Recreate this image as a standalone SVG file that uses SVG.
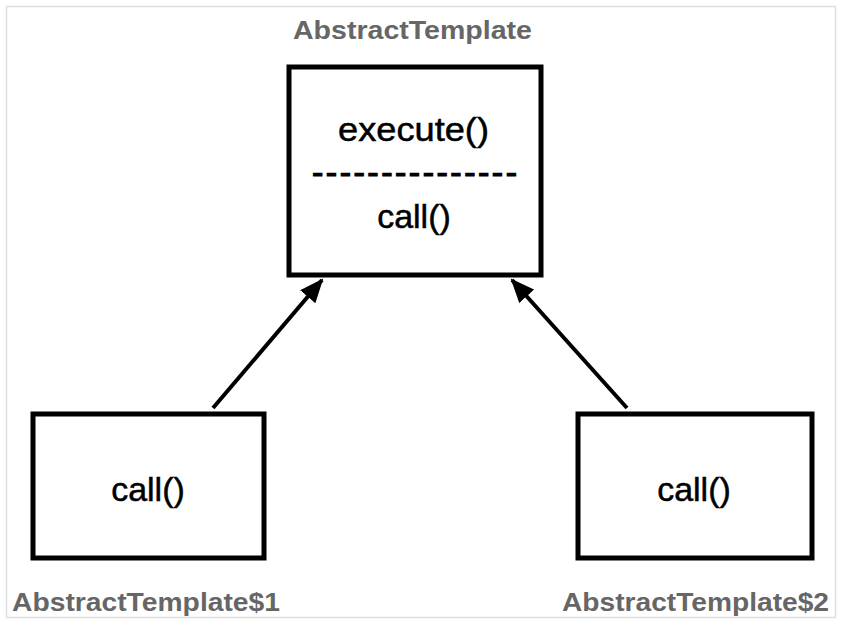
<svg xmlns="http://www.w3.org/2000/svg" width="843" height="632" viewBox="0 0 843 632">
<style>
.box{fill:#fff;stroke:#000;stroke-width:5}
.lbl{font-family:"Liberation Sans",Arial,sans-serif;font-weight:bold;font-size:25px;fill:#666}
.t{font-family:"Liberation Sans",Arial,sans-serif;font-size:34px;fill:#000;stroke:#000;stroke-width:0.5}
.dash{stroke-width:1.2}
.conn{stroke:#000;stroke-width:4;fill:none}
</style>
<defs>
<marker id="ah" viewBox="0 0 24 20" refX="22" refY="10" markerWidth="24" markerHeight="20" orient="auto" markerUnits="userSpaceOnUse">
<path d="M0,0 L24,10 L0,20 z" fill="#000"/>
</marker>
</defs>
<rect x="6.5" y="6.5" width="829" height="611" fill="#fff" stroke="#ddd" stroke-width="1.5"/>
<g id="abstract">
<text class="lbl" x="293" y="39" textLength="239" lengthAdjust="spacingAndGlyphs">AbstractTemplate</text>
<rect class="box" x="289" y="67" width="252" height="208"/>
<text class="t" x="338" y="141" textLength="151" lengthAdjust="spacingAndGlyphs">execute()</text>
<text class="t dash" x="312" y="184" textLength="205" lengthAdjust="spacing">---------------</text>
<text class="t" x="414" y="228" text-anchor="middle">call()</text>
</g>
<g id="t1">
<rect class="box" x="33" y="414" width="231" height="144"/>
<text class="t" x="148" y="501" text-anchor="middle">call()</text>
<text class="lbl" x="12" y="611" textLength="268" lengthAdjust="spacingAndGlyphs">AbstractTemplate$1</text>
</g>
<g id="t2">
<rect class="box" x="578" y="414" width="234" height="144"/>
<text class="t" x="694" y="501" text-anchor="middle">call()</text>
<text class="lbl" x="562" y="611" textLength="267" lengthAdjust="spacingAndGlyphs">AbstractTemplate$2</text>
</g>
<g id="connectors">
<line class="conn" x1="213" y1="408" x2="322" y2="280" marker-end="url(#ah)"/>
<line class="conn" x1="627" y1="408" x2="512" y2="280" marker-end="url(#ah)"/>
</g>
</svg>
